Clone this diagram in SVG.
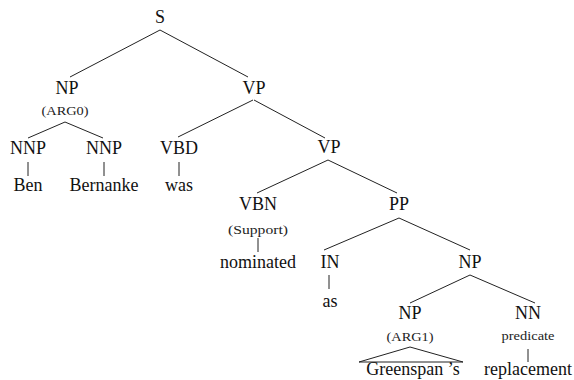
<svg xmlns="http://www.w3.org/2000/svg" width="574" height="380" viewBox="0 0 574 380">
<style>
text{font-family:'Liberation Serif','DejaVu Serif','Times New Roman',serif}
.l{font-size:18px;fill:#111;text-anchor:middle}
.s{font-size:12px;fill:#222;text-anchor:middle}
.e{stroke:#222;stroke-width:1;fill:none}
</style>
<rect width="574" height="380" fill="#fff"/>
<g id="connectors" class="e">
<path d="M160,30 L70,77 M160,30 L248,77"/>
<path d="M65,122 L28,138 M65,122 L103,138"/>
<path d="M28,162 V176 M104,162 V176 M179,162 V176"/>
<path d="M253,100 L178,137 M254,100 L325,138"/>
<path d="M328,160 L257,193 M328,160 L397,193"/>
<path d="M258,238 V252"/>
<path d="M399,218 L324,250 M399,218 L470,250"/>
<path d="M329,275 V289"/>
<path d="M470,275 L410,303 M470,275 L535,303"/>
<path d="M528,349 V362"/>
<path d="M410,347 L359,362 L463,362 Z"/>
</g>
<g id="S"><text class="l" x="160" y="23">S</text></g>
<g id="NP0"><text class="l" x="67" y="94">NP</text><text class="s" x="65" y="115" textLength="47" lengthAdjust="spacingAndGlyphs">(ARG0)</text></g>
<g id="NNP1"><text class="l" x="28" y="154">NNP</text></g>
<g id="Ben"><text class="l" x="28" y="191">Ben</text></g>
<g id="NNP2"><text class="l" x="104" y="154">NNP</text></g>
<g id="Bernanke"><text class="l" x="104" y="191">Bernanke</text></g>
<g id="VP1"><text class="l" x="254" y="94">VP</text></g>
<g id="VBD"><text class="l" x="179" y="154">VBD</text></g>
<g id="was"><text class="l" x="179" y="191">was</text></g>
<g id="VP2"><text class="l" x="329" y="153">VP</text></g>
<g id="VBN"><text class="l" x="258" y="210">VBN</text><text class="s" x="258" y="234" textLength="60" lengthAdjust="spacingAndGlyphs">(Support)</text></g>
<g id="nominated"><text class="l" x="258" y="268">nominated</text></g>
<g id="PP"><text class="l" x="399" y="210">PP</text></g>
<g id="IN"><text class="l" x="330" y="268">IN</text></g>
<g id="as"><text class="l" x="330" y="307">as</text></g>
<g id="NP1"><text class="l" x="470" y="268">NP</text></g>
<g id="NP2"><text class="l" x="410" y="319">NP</text><text class="s" x="410" y="341" textLength="47" lengthAdjust="spacingAndGlyphs">(ARG1)</text></g>
<g id="Greenspan"><text class="l" x="413" y="375">Greenspan ’s</text></g>
<g id="NN"><text class="l" x="528" y="319">NN</text><text class="s" x="528" y="340" textLength="53" lengthAdjust="spacingAndGlyphs">predicate</text></g>
<g id="replacement"><text class="l" x="528" y="375">replacement</text></g>
</svg>
